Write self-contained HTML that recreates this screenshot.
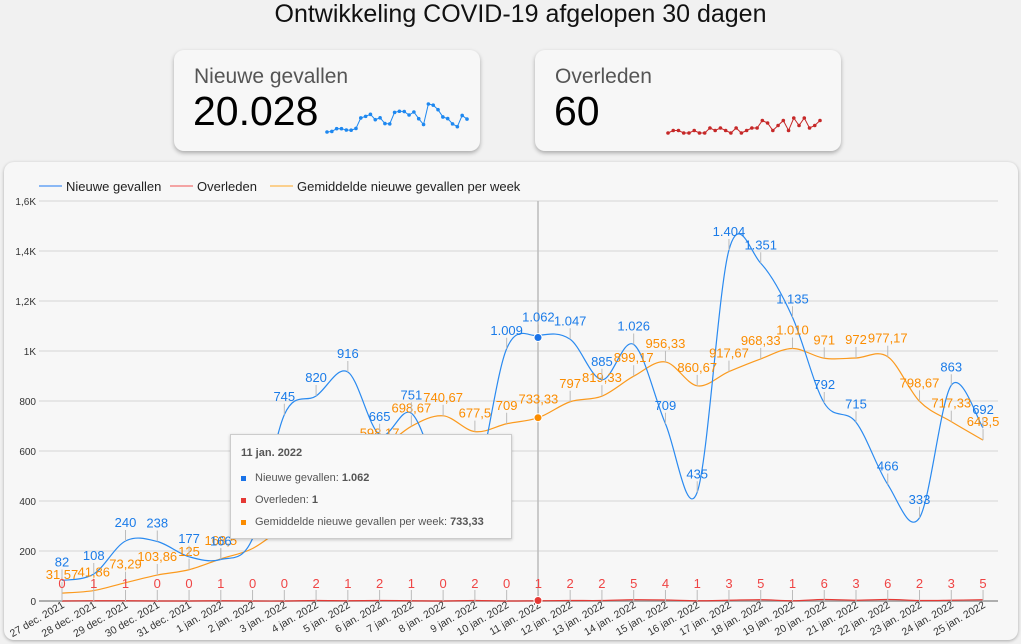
<!DOCTYPE html>
<html><head><meta charset="utf-8"><style>
body{margin:0;width:1021px;height:644px;background:#f1f1f1;font-family:"Liberation Sans",sans-serif;overflow:hidden;position:relative}
.title{position:absolute;top:0;left:0;width:1041px;text-align:center;font-size:25px;color:#111}
.card{position:absolute;top:50px;width:306px;height:101px;background:#f7f7f7;border-radius:10px;box-shadow:0 2px 4px rgba(0,0,0,.3)}
.card .t{position:absolute;left:20px;top:15px;font-size:21px;color:#555}
.card .n{position:absolute;left:19px;top:38px;font-size:41px;color:#000}
.chart{position:absolute;left:4px;top:162px;width:1014px;height:478px;background:#f7f7f7;border-radius:10px;box-shadow:0 1px 3px rgba(0,0,0,.3)}
svg{position:absolute;left:0;top:0}
.tip{position:absolute;left:230px;top:434px;width:280px;height:103px;background:#f9f9f9;border:1px solid #ccc;box-shadow:0 1px 3px rgba(0,0,0,.2);font-size:11px;color:#555}
.tip div{position:absolute;left:10px}
.sq{display:inline-block;width:5px;height:5px;margin-right:9px;vertical-align:middle}
</style></head><body>
<div class="title">Ontwikkeling COVID-19 afgelopen 30 dagen</div>
<div class="card" style="left:174px"><div class="t">Nieuwe gevallen</div><div class="n">20.028</div></div>
<div class="card" style="left:535px"><div class="t">Overleden</div><div class="n">60</div></div>
<div class="chart"></div>
<svg id="s" width="1021" height="644"></svg>
<div class="tip">
<div style="top:12px;font-weight:bold">11 jan. 2022</div>
<div style="top:37px"><span class="sq" style="background:#1a73e8"></span>Nieuwe gevallen: <b>1.062</b></div>
<div style="top:59px"><span class="sq" style="background:#e53935"></span>Overleden: <b>1</b></div>
<div style="top:81px"><span class="sq" style="background:#fb8c00"></span>Gemiddelde nieuwe gevallen per week: <b>733,33</b></div>
</div>
<script>
const B=[82,108,240,238,177,166,250,745,820,916,665,751,480,466,1009,1062,1047,885,1026,709,435,1404,1351,1135,792,715,466,333,863,692];
const O=[31.57,41.86,73.29,103.86,125,168.5,210,300,400,500,598.17,698.67,740.67,677.5,709,733.33,797,819.33,899.17,956.33,860.67,917.67,968.33,1010,971,972,977.17,798.67,717.33,643.5];
const R=[0,1,1,0,0,1,0,0,2,1,2,1,0,2,0,1,2,2,5,4,1,3,5,1,6,3,6,2,3,5];
const OL=["31,57","41,86","73,29","103,86","125","168,5","","","","","598,17","698,67","740,67","677,5","709","733,33","797","819,33","899,17","956,33","860,67","917,67","968,33","1.010","971","972","977,17","798,67","717,33","643,5"];
const BL=["82","108","240","238","177","166","","745","820","916","665","751","","","1.009","1.062","1.047","885","1.026","709","435","1.404","1.351","1.135","792","715","466","333","863","692"];
const X=i=>62+i*31.76, Y=v=>601-v*0.25;
let s='';
for(let k=0;k<=8;k++){let y=601-k*50;s+=`<line x1="39" x2="998" y1="${y}" y2="${y}" stroke="#e0e0e0" stroke-width="1.5"/>`;
let l=["0","200","400","600","800","1K","1,2K","1,4K","1,6K"][k];s+=`<text x="36" y="${y+4}" font-size="10" text-anchor="end" fill="#333">${l}</text>`}
s+=`<line x1="39" x2="998" y1="601" y2="601" stroke="#999" stroke-width="1.5"/>`;
s+=`<line x1="538" x2="538" y1="201" y2="601" stroke="#bbb" stroke-width="1.5"/>`;
function path(a){let p=a.map((v,i)=>[X(i),Y(v)]);let d=`M${p[0][0]},${p[0][1]}`;
for(let i=0;i<p.length-1;i++){let p0=p[i-1]||p[i],p1=p[i],p2=p[i+1],p3=p[i+2]||p2;
d+=`C${p1[0]+(p2[0]-p0[0])/6},${p1[1]+(p2[1]-p0[1])/6} ${p2[0]-(p3[0]-p1[0])/6},${p2[1]-(p3[1]-p1[1])/6} ${p2[0]},${p2[1]}`}return d}
function labels(a,L,c){for(let i=0;i<a.length;i++){if(!L[i])continue;let x=X(i),y=Y(a[i]);
s+=`<line x1="${x}" x2="${x}" y1="${y}" y2="${y-11}" stroke="#bbb"/><text x="${x}" y="${y-14}" font-size="13" text-anchor="middle" fill="${c}">${L[i]}</text>`}}
s+=`<path d="${path(O)}" fill="none" stroke="#fb9a1e" stroke-width="1.2"/>`;
s+=`<path d="${path(B)}" fill="none" stroke="#2a8af0" stroke-width="1.2"/>`;
s+=`<path d="${path(R)}" fill="none" stroke="#e53935" stroke-width="1.2"/>`;
labels(O,OL,"#fb8c00");labels(B,BL,"#1a7be8");
R.forEach((v,i)=>{let x=X(i);s+=`<line x1="${x}" x2="${x}" y1="601" y2="590" stroke="#bbb"/><text x="${x}" y="588" font-size="13" text-anchor="middle" fill="#ef4444">${v}</text>`});
const D=["27 dec. 2021","28 dec. 2021","29 dec. 2021","30 dec. 2021","31 dec. 2021"];for(let i=1;i<=25;i++)D.push(i+" jan. 2022");
D.forEach((d,i)=>{let x=X(i)+3;s+=`<text x="${x}" y="607" font-size="10.5" text-anchor="end" fill="#333" transform="rotate(-30 ${x} 607)">${d}</text>`});
s+=`<circle cx="538" cy="337.5" r="4" fill="#1a73e8" stroke="#fff"/><circle cx="538" cy="417.7" r="4" fill="#fb8c00" stroke="#fff"/><circle cx="538" cy="600.5" r="4" fill="#e53935" stroke="#fff"/>`;
[["Nieuwe gevallen","#8ab8f5",39],["Overleden","#f4a4a4",170],["Gemiddelde nieuwe gevallen per week","#fbd08e",270]].forEach(([t,c,x])=>{
s+=`<line x1="${x}" x2="${x+23}" y1="186" y2="186" stroke="${c}" stroke-width="2"/><text x="${x+27}" y="191" font-size="13" fill="#222">${t}</text>`});
function spark(a,x0,y0,w,h,c){let mx=Math.max(...a),mn=Math.min(...a);let pts=a.map((v,i)=>[x0+i*w/(a.length-1),y0-(v-mn)/(mx-mn)*h]);
s+=`<polyline points="${pts.map(p=>p.join(',')).join(' ')}" fill="none" stroke="${c}" stroke-width="1"/>`;pts.forEach(p=>s+=`<circle cx="${p[0]}" cy="${p[1]}" r="1.8" fill="${c}"/>`)}
spark(B,327,132,140,28,"#1e88f0");spark(R,668,133,152,15,"#c62828");
document.getElementById('s').innerHTML=s;
</script>
</body></html>
